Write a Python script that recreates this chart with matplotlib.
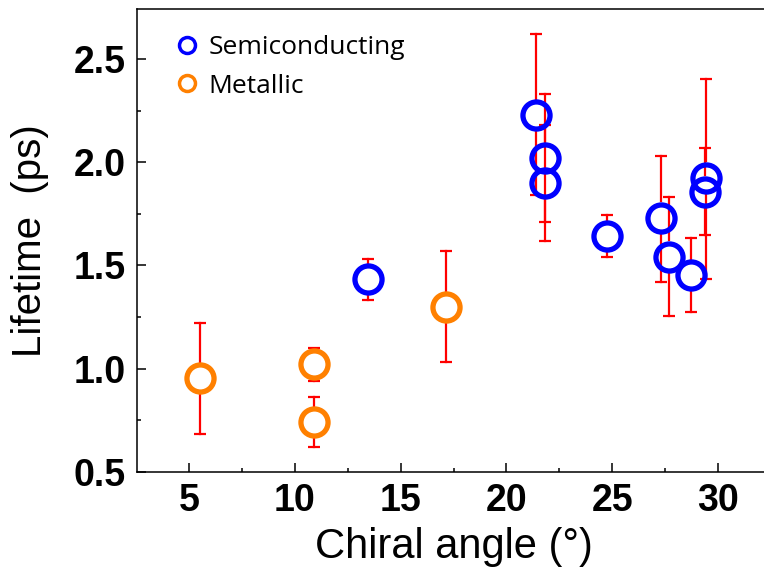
import matplotlib
matplotlib.use("Agg")
import matplotlib.pyplot as plt
from matplotlib.lines import Line2D
from matplotlib.ticker import MultipleLocator

# chiral angle (deg), lifetime (ps), upper / lower error
semi_angle = [13.47, 21.40, 21.83, 21.83, 24.74, 27.31, 27.71, 28.72, 29.45, 29.40]
semi_life = [1.433, 2.230, 2.023, 1.899, 1.643, 1.732, 1.543, 1.452, 1.926, 1.858]
semi_err_up = [0.10, 0.39, 0.31, 0.28, 0.10, 0.30, 0.29, 0.18, 0.48, 0.21]
semi_err_dn = [0.10, 0.39, 0.31, 0.28, 0.10, 0.31, 0.29, 0.18, 0.49, 0.21]

metal_angle = [5.51, 10.91, 10.91, 17.14]
metal_life = [0.953, 1.021, 0.742, 1.300]
metal_err_up = [0.27, 0.08, 0.12, 0.27]
metal_err_dn = [0.27, 0.08, 0.12, 0.27]

plt.rcParams['font.family'] = ['Liberation Sans', 'DejaVu Sans']

fig = plt.figure(figsize=(7.64, 5.73), dpi=100)
ax = fig.add_axes([137 / 764, 1 - 471.7 / 573, 634.4 / 764, 462.4 / 573])
ax.set_xlim(2.53, 32.53)
ax.set_ylim(0.5, 2.742)

ms = 19.5   # marker size in points
mew = 3.8

# gap so error bars start at the ring edge, not inside the marker
p0 = ax.transData.transform((0, 0))
p1 = ax.transData.transform((0, 1))
px_per_unit = p1[1] - p0[1]
gap = (ms / 2 + mew / 2) * fig.dpi / 72 / px_per_unit


def draw_series(xs, ys, up, dn, color):
    eb = ax.errorbar(xs, ys, yerr=[dn, up], fmt='none', ecolor='#ff0000',
                     elinewidth=1.6, capsize=4.5, capthick=1.6, zorder=2)
    for col in eb[2]:
        col.set_visible(False)
    for x, y, u, d in zip(xs, ys, up, dn):
        if u > gap:
            ax.plot([x, x], [y + gap, y + u], color='#ff0000', lw=1.6, zorder=2)
        if d > gap:
            ax.plot([x, x], [y - gap, y - d], color='#ff0000', lw=1.6, zorder=2)
    ax.plot(xs, ys, 'o', ms=ms, mfc='none', mec=color, mew=mew,
            linestyle='none', zorder=3)


draw_series(metal_angle, metal_life, metal_err_up, metal_err_dn, '#ff8000')
draw_series(semi_angle, semi_life, semi_err_up, semi_err_dn, '#0000ff')

ax.xaxis.set_minor_locator(MultipleLocator(2.5))
ax.yaxis.set_minor_locator(MultipleLocator(0.25))
ax.tick_params(which='both', direction='in', top=False, right=False, width=1.1)
ax.tick_params(which='major', length=6.3, labelsize=27)
ax.tick_params(axis='x', which='major', pad=8)
ax.tick_params(axis='y', which='major', pad=8)
ax.tick_params(which='minor', length=3)
ax.set_yticks([0.5, 1.0, 1.5, 2.0, 2.5])
ax.set_yticklabels(['0.5', '1.0', '1.5', '2.0', '2.5'], fontweight='bold')
ax.set_xticks([5, 10, 15, 20, 25, 30])
ax.set_xticklabels(['5', '10', '15', '20', '25', '30'], fontweight='bold')
for sp in ax.spines.values():
    sp.set_linewidth(1.1)

ax.set_xlabel('Chiral angle (°)', fontsize=30, labelpad=6)
ax.set_ylabel('Lifetime  (ps)', fontsize=29, labelpad=18)

handles = [
    Line2D([], [], marker='o', ls='none', ms=11.5, mfc='none', mec='#0000ff', mew=2.5),
    Line2D([], [], marker='o', ls='none', ms=11.5, mfc='none', mec='#ff8000', mew=2.5),
]
ax.legend(handles, ['Semiconducting', 'Metallic'], loc='upper left',
          bbox_to_anchor=(0.025, 0.995), frameon=False, handlelength=0.8,
          handletextpad=0.4, labelspacing=0.5,
          prop={'family': 'Open Sans', 'size': 19})

fig.savefig('out.png', dpi=100)
